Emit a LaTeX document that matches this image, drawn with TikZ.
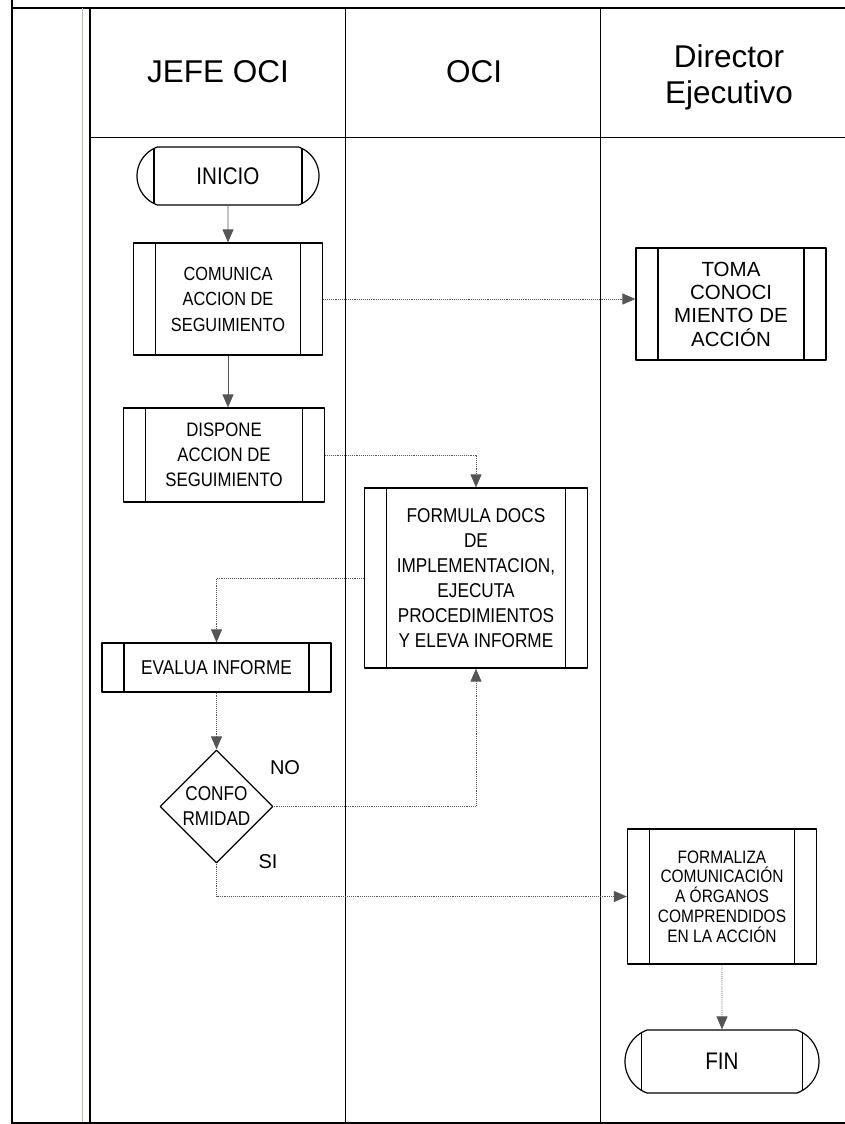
\documentclass[tikz,border=0pt]{standalone}
\usepackage{fontspec}
\setmainfont{Liberation Sans}
\newfontfamily\estrecha[FakeStretch=0.86]{Liberation Sans}
\usetikzlibrary{arrows.meta,shapes.geometric,shapes.misc}

\definecolor{flechagris}{RGB}{85,85,85}
\definecolor{lineagris}{RGB}{185,185,170}

\newcommand{\letra}[2]{\fontsize{#1}{#2}\selectfont}

\begin{document}
\begin{tikzpicture}[x=1pt,y=-1pt,line join=round,
        proceso/.style={draw,line width=1.2pt,align=center,inner sep=0pt,
            path picture={
                \draw[line width=1.2pt]
                    ([xshift=22pt]path picture bounding box.north west) --
                    ([xshift=22pt]path picture bounding box.south west)
                    ([xshift=-22pt]path picture bounding box.north east) --
                    ([xshift=-22pt]path picture bounding box.south east);
            }},
        terminal/.style={draw,line width=1.2pt,rounded rectangle,
            rounded rectangle arc length=140,inner sep=0pt,
            path picture={
                \draw[line width=1.2pt]
                    ([xshift=21pt]path picture bounding box.north west) --
                    ([xshift=21pt]path picture bounding box.south west)
                    ([xshift=-21pt]path picture bounding box.north east) --
                    ([xshift=-21pt]path picture bounding box.south east);
            }},
        decision/.style={draw,line width=1.2pt,diamond,aspect=1,
            inner sep=0pt,align=center},
        flecha/.style={flechagris,line width=0.9pt,
            -{Triangle[length=13pt,width=11pt]}},
        flechapunteada/.style={flecha,densely dotted}]
        \useasboundingbox (0,0) rectangle (845,1124);

        % Marco y carriles
        \draw[line width=2.4pt] (12,0) -- (12,1124);
        \draw[line width=2.4pt] (12,8) -- (845,8);
        \draw[lineagris,line width=1pt] (82,8) -- (82,1124);
        \draw[line width=1.4pt] (90,8) -- (90,1123);
        \draw[line width=1pt] (345,8) -- (345,1123);
        \draw[line width=1pt] (600,8) -- (600,1123);
        \draw[line width=1pt] (90,137) -- (845,137);
        \draw[line width=1.2pt] (12,1123) -- (845,1123);

        % Cabeceras
        \node[font=\letra{31.5}{36}] (jefe) at (218,72) {JEFE OCI};
        \node[font=\letra{31.5}{36}] (oci) at (474,72) {OCI};
        \node[font=\letra{31.5}{36},align=center] (dir) at (729,77)
            {Director\\Ejecutivo};

        % Actividades
        \node[terminal,minimum width=182pt,minimum height=58pt,
            font=\estrecha\letra{24}{25}] (ini) at (228,176) {INICIO};
        \node[proceso,minimum width=189pt,minimum height=112pt,
            font=\estrecha\letra{19}{25.5}] (comu) at (228,299)
            {COMUNICA\\ACCION DE\\SEGUIMIENTO};
        \node[proceso,minimum width=190pt,minimum height=112pt,
            font=\letra{20.5}{23.3}] (toma) at (731,304)
            {TOMA\\CONOCI\\MIENTO DE\\ACCIÓN};
        \node[proceso,minimum width=201pt,minimum height=94pt,
            font=\estrecha\letra{19.5}{25}] (disp) at (224,455)
            {DISPONE\\ACCION DE\\SEGUIMIENTO};
        \node[proceso,minimum width=223pt,minimum height=180pt,
            font=\estrecha\letra{20}{25}] (form) at (476,578)
            {FORMULA DOCS\\DE\\IMPLEMENTACION,\\EJECUTA\\PROCEDIMIENTOS\\Y ELEVA INFORME};
        \node[proceso,minimum width=229pt,minimum height=49pt,
            font=\estrecha\letra{20}{25}] (eval) at (216.5,667.5) {EVALUA INFORME};
        \node[decision,minimum width=113pt,minimum height=113pt,
            font=\estrecha\letra{20}{25}] (conf) at (216.5,806.5) {CONFO\\RMIDAD};
        \node[proceso,minimum width=189pt,minimum height=135pt,
            font=\estrecha\letra{18}{19.8}] (formal) at (722,896.5)
            {FORMALIZA\\COMUNICACIÓN\\A ÓRGANOS\\COMPRENDIDOS\\EN LA ACCIÓN};
        \node[terminal,minimum width=194pt,minimum height=63pt,
            font=\estrecha\letra{24}{25}] (fin) at (722,1061.5) {FIN};

        % Etiquetas de la decisión
        \node[font=\letra{20}{24}] (no) at (285,768) {NO};
        \node[font=\letra{20}{24}] (si) at (268,862) {SI};

        % Conectores
        \draw[flecha] (ini) -- (comu);
        \draw[flecha] (comu.south) -- (comu.south |- disp.north);
        \draw[flechapunteada] (comu.east) -- (comu.east -| toma.west);
        \draw[flechapunteada] (disp.east) -| (form.north);
        \draw[flechapunteada] (form.west) -| (eval.north);
        \draw[flechapunteada] (eval) -- (conf);
        \draw[flechapunteada] (conf.east) -| (form.south);
        \draw[flechapunteada] (conf.south) |- (formal.west);
        \draw[flechapunteada] (formal) -- (fin);
    \end{tikzpicture}
\end{document}
